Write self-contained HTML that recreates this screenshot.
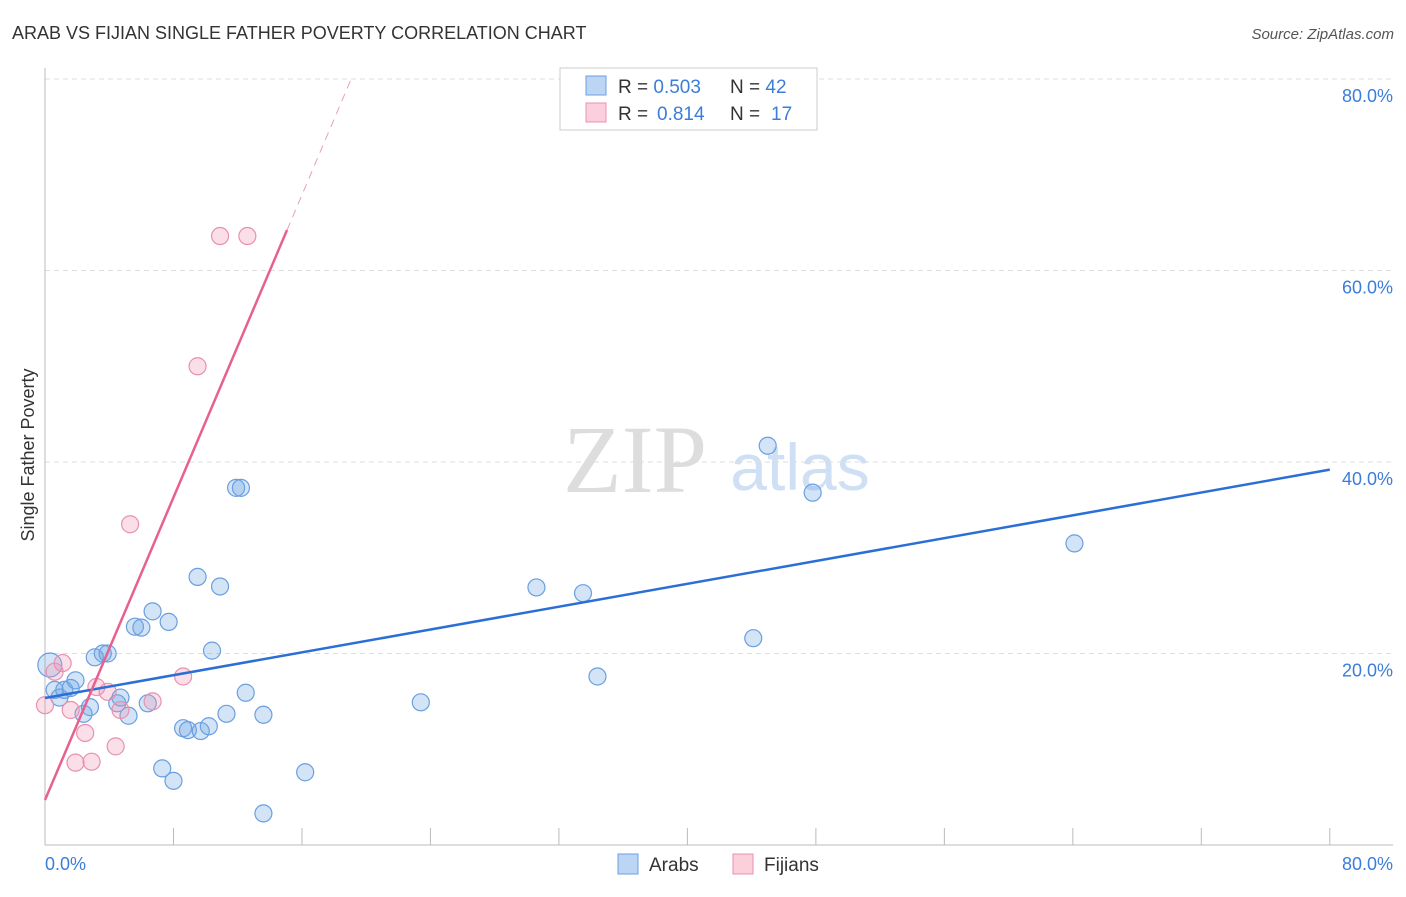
<!DOCTYPE html>
<html><head><meta charset="utf-8"><style>
body{margin:0;background:#fff;font-family:"Liberation Sans",sans-serif;}
</style></head><body>
<svg width="1406" height="892" xmlns="http://www.w3.org/2000/svg" font-family="Liberation Sans, sans-serif">
<text x="12" y="39" font-size="18" fill="#333">ARAB VS FIJIAN SINGLE FATHER POVERTY CORRELATION CHART</text>
<text x="1394" y="39" font-size="15" fill="#555" text-anchor="end" font-style="italic">Source: ZipAtlas.com</text>
<text x="635" y="492" font-size="96" fill="#ddd" font-family="Liberation Serif, serif" text-anchor="middle">ZIP</text>
<text x="800" y="490" font-size="66" fill="#cfe0f5" text-anchor="middle">atlas</text>
<g id="grid"></g>
<g id="axes"></g>
<g id="pts"></g>
<g id="lines"></g>
<text x="34" y="455" font-size="18" fill="#333" transform="rotate(-90 34 455)" text-anchor="middle">Single Father Poverty</text>
<text x="45" y="870" font-size="18" fill="#3b7dd8">0.0%</text>
<text x="1393" y="870" font-size="18" fill="#3b7dd8" text-anchor="end">80.0%</text>
<g>
<rect x="560" y="68" width="257" height="62" fill="#fff" stroke="#ccc"/>
<rect x="586" y="76" width="20" height="19" fill="#bcd5f5" stroke="#6a9fe0"/>
<rect x="586" y="103" width="20" height="19" fill="#fbd0dc" stroke="#e890b0"/>
<text x="618" y="93" font-size="19" fill="#333">R = <tspan fill="#3b7dd8">0.503</tspan><tspan x="730">N = </tspan><tspan fill="#3b7dd8">42</tspan></text>
<text x="618" y="120" font-size="19" fill="#333">R = <tspan fill="#3b7dd8" x="657">0.814</tspan><tspan x="730">N = </tspan><tspan fill="#3b7dd8" x="771">17</tspan></text>
</g>
<g>
<rect x="618" y="854" width="20" height="20" fill="#bcd5f5" stroke="#6a9fe0"/>
<text x="649" y="871" font-size="19" fill="#333">Arabs</text>
<rect x="733" y="854" width="20" height="20" fill="#fbd0dc" stroke="#e890b0"/>
<text x="764" y="871" font-size="19" fill="#333">Fijians</text>
</g>
</svg>
<script>
const yTicks=[20,40,60,80];
const xTicks=[0,8,16,24,32,40,48,56,64,72,80];
const arabX=[0.3,0.6,0.9,1.2,1.6,1.9,2.4,2.8,3.1,3.6,3.9,4.5,4.7,5.2,5.6,6.0,6.4,6.7,7.3,7.7,8.0,8.6,8.9,9.5,9.7,10.2,10.4,10.9,11.3,11.9,12.2,12.5,13.6,13.6,16.2,23.4,30.6,33.5,34.4,44.1,45.0,47.8,64.1];
const arabY=[18.8,16.2,15.4,16.2,16.4,17.2,13.7,14.4,19.6,20.0,20.0,14.8,15.4,13.5,22.8,22.7,14.8,24.4,8.0,23.3,6.7,12.2,12.0,28.0,11.9,12.4,20.3,27.0,13.7,37.3,37.3,15.9,13.6,3.3,7.6,14.9,26.9,26.3,17.6,21.6,41.7,36.8,31.5];
const fijX=[0,0.6,1.1,1.6,1.9,2.5,2.9,3.2,3.9,4.4,4.7,5.3,6.7,8.6,9.5,10.9,12.6];
const fijY=[14.6,18.1,19.0,14.1,8.6,11.7,8.7,16.5,16.0,10.3,14.1,33.5,15.0,17.6,49.998,63.6,63.6];
const blueLine=[15.35,39.2];
const pinkIntercept=4.7, pinkSlope=3.95, pinkSolidEnd=15.07;
const X=v=>45+v*16.06, Y=v=>845-v*9.575;
const NS='http://www.w3.org/2000/svg';
function mk(t,a,p){const e=document.createElementNS(NS,t);for(const k in a)e.setAttribute(k,a[k]);document.getElementById(p).appendChild(e);return e;}
yTicks.forEach(t=>{
 const l=mk('line',{x1:45,x2:1393,y1:Y(t),y2:Y(t),stroke:'#ddd','stroke-dasharray':'5,4'},'grid');
 
 
 const tx=mk('text',{x:1393,y:Y(t)+23,'font-size':18,fill:'#3b7dd8','text-anchor':'end'},'grid');
 tx.textContent=t.toFixed(1)+'%';
 
 
});
mk('line',{x1:45,x2:45,y1:68,y2:845,stroke:'#bbb'},'axes');
mk('line',{x1:45,x2:1393,y1:845,y2:845,stroke:'#bbb'},'axes');
xTicks.forEach(t=>{const l=mk('line',{x1:X(t),x2:X(t),y1:828,y2:845,stroke:'#bbb'},'axes');
 
 });
arabX.forEach((v,i)=>{const c=mk('circle',{cx:X(v),cy:Y(arabY[i]),r:i==0?12:8.5,fill:'rgba(110,165,230,0.3)',stroke:'#6a9fe0','stroke-width':1.2},'pts');
 
 });
fijX.forEach((v,i)=>{const c=mk('circle',{cx:X(v),cy:Y(fijY[i]),r:8.5,fill:'rgba(240,150,180,0.3)',stroke:'#e890b0','stroke-width':1.2},'pts');
 
 });
const bl=mk('line',{x1:X(0),y1:Y(blueLine[0]),x2:X(80),y2:Y(blueLine[1]),stroke:'#2a6fd6','stroke-width':2.5},'lines');


const pl=mk('line',{x1:X(0),y1:Y(pinkIntercept),x2:X(pinkSolidEnd),y2:Y(pinkIntercept+pinkSlope*pinkSolidEnd),stroke:'#e8608e','stroke-width':2.5},'lines');


const xe=(80-pinkIntercept)/pinkSlope;
const pd=mk('line',{x1:X(pinkSolidEnd),y1:Y(pinkIntercept+pinkSlope*pinkSolidEnd),x2:X(xe),y2:Y(80),stroke:'#e8a0b8','stroke-width':1,'stroke-dasharray':'8,6'},'lines');


</script>
</body></html>
